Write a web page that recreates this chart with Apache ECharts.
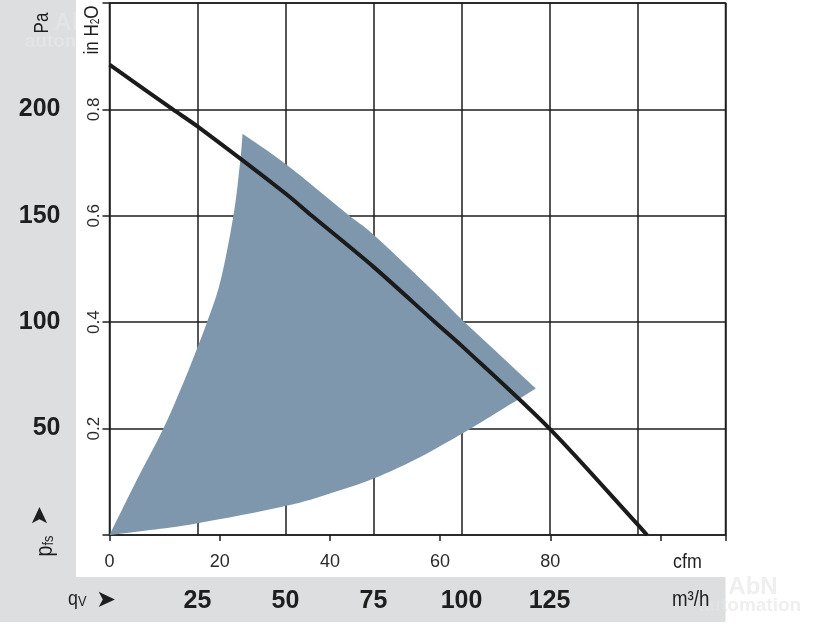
<!DOCTYPE html>
<html>
<head>
<meta charset="utf-8">
<script src="https://cdn.jsdelivr.net/npm/echarts@6/dist/echarts.min.js"></script>
<style>
  html, body { margin: 0; padding: 0; background: #ffffff; }
  #chart { width: 816px; height: 624px; }
</style>
</head>
<body>
<div id="chart"></div>
<script>
// ---- tick labels ----
const flowTicksM3h = [25, 50, 75, 100, 125];
const flowTicksCfm = [0, 20, 40, 60, 80];
const pressureTicksPa = [50, 100, 150, 200];
const pressureTicksInH2O = [0.2, 0.4, 0.6, 0.8];

// ---- characteristic curve (m³/h, Pa) ----
const curveFlow = [0, 18, 25, 50, 57.5, 75, 92.5, 100, 125, 150, 152.7];
const curvePa   = [221, 200, 192, 160.5, 150, 126, 100, 89, 50, 5, 0];

// ---- operating range (shaded area), boundary in (m³/h, Pa) ----
// left edge: from top corner down to origin
const rangeLeftFlow   = [37.8, 37.1, 35.2, 31.5, 27.7, 24.6, 21.2, 15.3, 7.7, 0];
const rangeLeftPa     = [188.5, 175.2, 150, 119.2, 100, 86.5, 72.4, 50, 25.7, 0];
// bottom edge: from origin to right tip
const rangeBottomFlow = [0, 11.5, 25, 50, 62.6, 75, 87.3, 100, 110.9, 121.1];
const rangeBottomPa   = [0, 2.3, 5.5, 13.6, 19.5, 26.5, 35.8, 47.5, 58.4, 68.8];
// top edge: from right tip back to top corner
const rangeTopFlow    = [121.1, 110.9, 100, 91.5, 75, 67.8, 50, 37.8];
const rangeTopPa      = [68.8, 84.6, 101.4, 115.4, 141.1, 150.5, 174.4, 188.5];

const curveData = curveFlow.map((x, i) => [x, curvePa[i]]);
const rangeLeft = rangeLeftFlow.map((x, i) => [x, rangeLeftPa[i]]);
const rangeBottom = rangeBottomFlow.map((x, i) => [x, rangeBottomPa[i]]);
const rangeTop = rangeTopFlow.map((x, i) => [x, rangeTopPa[i]]);

const SANS = "'Liberation Sans', Arial, sans-serif";
const INK = '#1e1e1e';
const BAND = '#dddee0';
const has = (arr, v) => arr.some(t => Math.abs(t - v) < 1e-6);

// smooth drawing of an edge through its (already projected) pixel points
function smoothEdge(pts, steps) {
  const out = [];
  const n = pts.length;
  for (let i = 0; i < n - 1; i++) {
    const p0 = pts[Math.max(i - 1, 0)], p1 = pts[i], p2 = pts[i + 1], p3 = pts[Math.min(i + 2, n - 1)];
    for (let s = 0; s < steps; s++) {
      const t = s / steps, t2 = t * t, t3 = t2 * t;
      const f = (a, b, c, d) => 0.5 * ((2 * b) + (-a + c) * t + (2 * a - 5 * b + 4 * c - d) * t2 + (-a + 3 * b - 3 * c + d) * t3);
      out.push([f(p0[0], p1[0], p2[0], p3[0]), f(p0[1], p1[1], p2[1], p3[1])]);
    }
  }
  return out;
}

const chart = echarts.init(document.getElementById('chart'), null, { renderer: 'canvas' });

chart.setOption({
  animation: false,
  backgroundColor: '#ffffff',
  grid: {
    left: 109.5, right: 90.5, top: 1, bottom: 89,
    show: true, borderColor: INK, borderWidth: 1.5, backgroundColor: 'transparent'
  },
  xAxis: [
    {
      type: 'value', min: 0, max: 175, interval: 25, position: 'bottom',
      axisLine: { show: false }, axisTick: { show: false },
      splitLine: { show: true, lineStyle: { color: INK, width: 1.5 } },
      axisLabel: {
        margin: 54, fontSize: 25, fontWeight: 'bold', fontFamily: SANS, color: INK,
        formatter: v => has(flowTicksM3h, v) ? String(v) : ''
      }
    },
    {
      type: 'value', min: 0, max: 111.8, interval: 20, position: 'bottom',
      axisLine: { show: false },
      axisTick: { show: true, length: 6, inside: false, lineStyle: { color: INK, width: 1.5 } },
      splitLine: { show: false },
      axisLabel: {
        margin: 18, fontSize: 18, fontFamily: SANS, color: '#2a2a2a',
        formatter: v => has(flowTicksCfm, v) ? String(v) : ''
      }
    }
  ],
  yAxis: [
    {
      type: 'value', min: 0, max: 250, interval: 50, position: 'left',
      axisLine: { show: false },
      axisTick: { show: true, length: 7, inside: false, lineStyle: { color: INK, width: 1.5 } },
      splitLine: { show: true, lineStyle: { color: INK, width: 1.5 } },
      axisLabel: {
        margin: 49, fontSize: 25, fontWeight: 'bold', fontFamily: SANS, color: INK,
        formatter: v => has(pressureTicksPa, v) ? String(v) : ''
      }
    },
    {
      type: 'value', min: 0, max: 1.0, interval: 0.2, position: 'left',
      axisLine: { show: false }, axisTick: { show: false }, splitLine: { show: false },
      axisLabel: {
        rotate: 90, margin: 7, fontSize: 17, fontFamily: SANS, color: '#2a2a2a',
        formatter: v => has(pressureTicksInH2O, v) ? (Math.round(v * 10) / 10).toFixed(1) : ''
      }
    }
  ],
  series: [
    {
      type: 'custom',
      name: 'range',
      xAxisIndex: 0, yAxisIndex: 0,
      data: [[0, 0]],
      encode: { x: 0, y: 1 },
      z: 1,
      silent: true,
      renderItem: function (params, api) {
        const L = smoothEdge(rangeLeft.map(p => api.coord(p)), 8);
        const B = smoothEdge(rangeBottom.map(p => api.coord(p)), 8);
        const T = smoothEdge(rangeTop.map(p => api.coord(p)), 8);
        return {
          type: 'polygon',
          shape: { points: L.concat(B, T) },
          style: { fill: '#7e97ad' }
        };
      }
    },
    {
      type: 'line',
      name: 'curve',
      xAxisIndex: 0, yAxisIndex: 0,
      data: curveData,
      smooth: 0.3,
      symbol: 'none',
      z: 3,
      lineStyle: { color: '#1b1b1b', width: 4 }
    }
  ],
  graphic: [
    { type: 'rect', z: -10, shape: { x: 0, y: 0, width: 76, height: 577 }, style: { fill: BAND } },
    { type: 'rect', z: -10, shape: { x: 0, y: 577, width: 725.5, height: 45 }, style: { fill: BAND } },

    // watermarks
    { type: 'text', z: -5, x: 79, y: 23, style: { text: 'AbN', fontSize: 24, fontWeight: 'bold', fontFamily: SANS, fill: 'rgba(255,255,255,0.18)', align: 'center', verticalAlign: 'middle' } },
    { type: 'text', z: -5, x: 76, y: 42, style: { text: 'automation', fontSize: 19, fontWeight: 'bold', fontFamily: SANS, fill: 'rgba(255,255,255,0.18)', align: 'center', verticalAlign: 'middle' } },
    { type: 'text', z: -5, x: 753, y: 587, style: { text: 'AbN', fontSize: 24, fontWeight: 'bold', fontFamily: SANS, fill: 'rgba(228,228,228,0.6)', align: 'center', verticalAlign: 'middle' } },
    { type: 'text', z: -5, x: 750, y: 606, style: { text: 'automation', fontSize: 19, fontWeight: 'bold', fontFamily: SANS, fill: 'rgba(228,228,228,0.6)', align: 'center', verticalAlign: 'middle' } },

    // axis units
    { type: 'text', x: 42, y: 23, rotation: Math.PI / 2, scaleX: 0.85,
      style: { text: 'Pa', fontSize: 20, fontFamily: SANS, fill: INK, align: 'center', verticalAlign: 'middle' } },
    { type: 'text', x: 92, y: 30, rotation: Math.PI / 2, scaleX: 0.85,
      style: {
        text: '{m|in H}{s|2}{m|O}', align: 'center', verticalAlign: 'middle', fill: INK,
        rich: {
          m: { fontSize: 20, fontFamily: SANS, fill: INK, lineHeight: 20 },
          s: { fontSize: 12, fontFamily: SANS, fill: INK, lineHeight: 8, verticalAlign: 'bottom' }
        }
      } },
    { type: 'text', x: 673, y: 562, scaleX: 0.85,
      style: { text: 'cfm', fontSize: 21, fontFamily: SANS, fill: INK, align: 'left', verticalAlign: 'middle' } },
    { type: 'text', x: 672, y: 600, scaleX: 0.85,
      style: { text: 'm³/h', fontSize: 22, fontFamily: SANS, fill: INK, align: 'left', verticalAlign: 'middle' } },

    // q_V ➤
    { type: 'text', x: 68, y: 599, scaleX: 0.85,
      style: {
        text: '{m|q}{s|V}', align: 'left', verticalAlign: 'middle', fill: INK,
        rich: {
          m: { fontSize: 21, fontFamily: SANS, fill: INK, lineHeight: 20 },
          s: { fontSize: 15, fontFamily: SANS, fill: INK, lineHeight: 10, verticalAlign: 'bottom' }
        }
      } },
    { type: 'text', x: 106, y: 601,
      style: { text: '➤', fontSize: 24, fontFamily: "'DejaVu Sans', sans-serif", fill: INK, align: 'center', verticalAlign: 'middle' } },

    // p_fs ➤ (vertical)
    { type: 'text', x: 46, y: 546, rotation: Math.PI / 2, scaleX: 0.85,
      style: {
        text: '{m|p}{s|fs}', align: 'center', verticalAlign: 'middle', fill: INK,
        rich: {
          m: { fontSize: 23, fontFamily: SANS, fill: INK, lineHeight: 20 },
          s: { fontSize: 15, fontFamily: SANS, fill: INK, lineHeight: 10, verticalAlign: 'bottom' }
        }
      } },
    { type: 'text', x: 41, y: 516, rotation: Math.PI / 2,
      style: { text: '➤', fontSize: 24, fontFamily: "'DejaVu Sans', sans-serif", fill: INK, align: 'center', verticalAlign: 'middle' } }
  ]
});
</script>
</body>
</html>
